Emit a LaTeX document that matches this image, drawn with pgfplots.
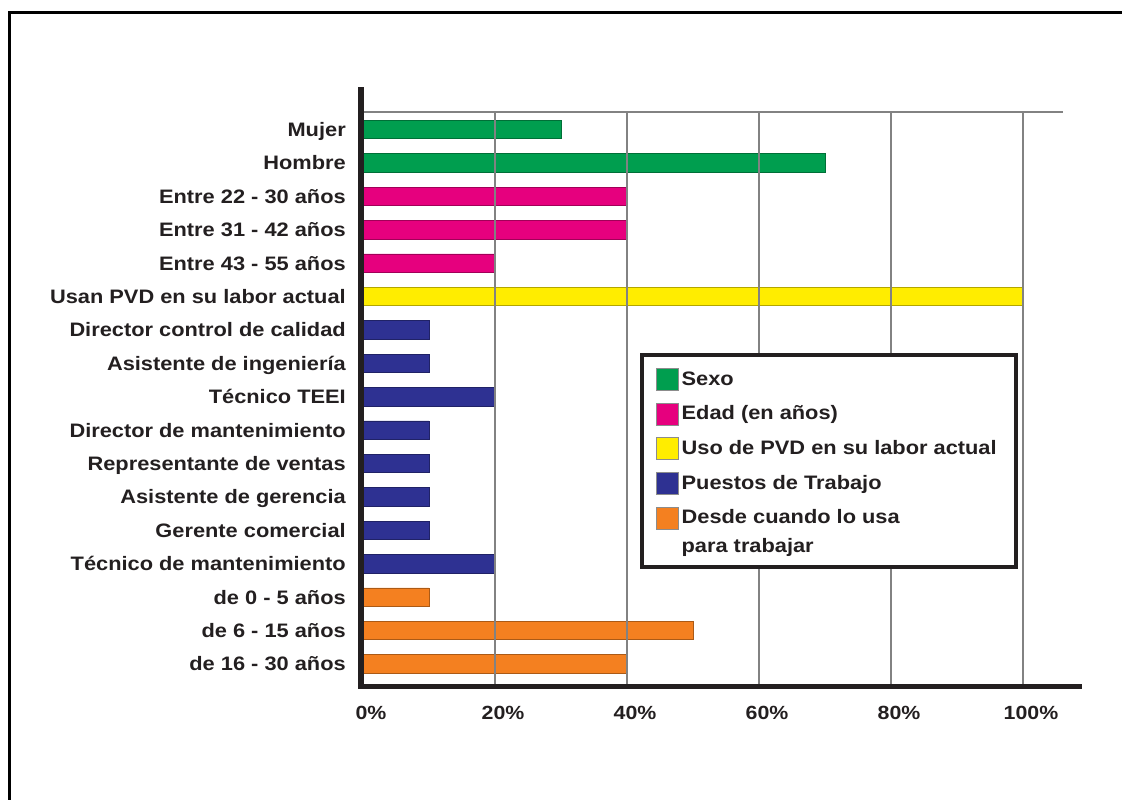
\documentclass[border=0pt]{standalone}
\usepackage{pgfplots}
\pgfplotsset{compat=1.18}
\usepackage{fontspec}
\setmainfont{Liberation Sans}[FakeStretch=1.12]
\definecolor{ctext}{RGB}{35,31,32}
\definecolor{cgrid}{RGB}{130,130,130}
\definecolor{cgreen}{RGB}{0,158,79}
\definecolor{cpink}{RGB}{230,0,126}
\definecolor{cyellow}{RGB}{255,237,0}
\definecolor{cblue}{RGB}{46,49,146}
\definecolor{corange}{RGB}{244,128,32}
\newcommand{\LE}[1]{\raisebox{0pt}[10.5pt][0pt]{#1}}
\newcommand{\lblfont}{\fontsize{14.6}{17.5}\selectfont\bfseries}
\pgfplotsset{
  sqlegend/.style={legend image code/.code={\draw[##1, line width=0.5pt, draw=black!45] (0pt,-8.25pt) rectangle (16.5pt,8.25pt);}},
  mybar/.style={xbar, bar width=0.554, bar shift=0pt, line width=0.6pt},
}
\begin{document}
\begin{tikzpicture}
\useasboundingbox (0,0) rectangle (841.5pt,-600pt);
\begin{axis}[
  at={(272.25pt,-515.25pt)}, anchor=south west,
  scale only axis, width=525pt, height=431.25pt,
  xmin=0, xmax=1.060606, ymin=-0.6886, ymax=16.527,
  axis line style={draw=none},
  axis on top,
  clip=false,
  xtick={0,0.2,0.4,0.6,0.8,1},
  xticklabels={0\%,20\%,40\%,60\%,80\%,100\%},
  ytick={0,1,...,16},
  yticklabels={de 16 - 30 años\hspace{5pt},de 6 - 15 años\hspace{6pt},de 0 - 5 años\hspace{5pt},Técnico de mantenimiento,Gerente comercial,Asistente de gerencia,Representante de ventas,Director de mantenimiento,Técnico TEEI\hspace{1.5pt},Asistente de ingeniería,Director control de calidad\hspace{5pt},Usan PVD en su labor actual,Entre 43 - 55 años,Entre 31 - 42 años,Entre 22 - 30 años,Hombre,Mujer},
  major tick length=0pt,
  xmajorgrids,
  grid style={draw=cgrid, line width=0.9pt},
  xticklabel style={anchor=base, inner sep=0pt, yshift=-24pt, xshift=6pt, font=\fontsize{14.3}{16}\selectfont\bfseries, text=ctext},
  yticklabel style={anchor=base east, inner sep=0pt, xshift=-12.75pt, yshift=-5.2pt, font=\lblfont, text=ctext},
  legend style={at={(axis description cs:0.3957,0.5809)}, anchor=north west, draw=ctext, line width=3pt, fill=white, inner xsep=10.5pt, inner ysep=9.75pt, row sep=9pt, column sep=2.25pt, font=\lblfont, text=ctext, nodes={inner sep=0pt}},
  legend cell align=left,
]
\addplot[mybar, fill=cgreen, draw=cgreen!70!black, sqlegend] coordinates {(0.30,16) (0.70,15)};
\addlegendentry{\LE{Sexo}}
\addplot[mybar, fill=cpink, draw=cpink!70!black, sqlegend] coordinates {(0.40,14) (0.40,13) (0.20,12)};
\addlegendentry{\LE{Edad (en años)}}
\addplot[mybar, fill=cyellow, draw=cyellow!70!black, sqlegend] coordinates {(1.00,11)};
\addlegendentry{\LE{Uso de PVD en su labor actual\hspace{4pt}}}
\addplot[mybar, fill=cblue, draw=cblue!70!black, sqlegend] coordinates {(0.10,10) (0.10,9) (0.20,8) (0.10,7) (0.10,6) (0.10,5) (0.10,4) (0.20,3)};
\addlegendentry{\LE{Puestos de Trabajo}}
\addplot[mybar, fill=corange, draw=corange!70!black, sqlegend] coordinates {(0.10,2) (0.50,1) (0.40,0)};
\addlegendentry{\LE{Desde cuando lo usa}}
\addlegendimage{empty legend}
\addlegendentry{\raisebox{0pt}[8.25pt][3.75pt]{para trabajar}}
\end{axis}
% decorations (pixel -> pt at 0.75)
\draw[cgrid, line width=0.8pt] (273pt,-84pt) -- (797.25pt,-84pt);
\draw[ctext, line width=4.5pt] (270.75pt,-65.25pt) -- (270.75pt,-516.75pt);
\draw[ctext, line width=3.75pt] (268.5pt,-514.9pt) -- (811.5pt,-514.9pt);
\draw[black, line width=2.25pt] (6.75pt,-605pt) -- (6.75pt,-9pt) -- (845pt,-9pt);
\end{tikzpicture}
\end{document}
